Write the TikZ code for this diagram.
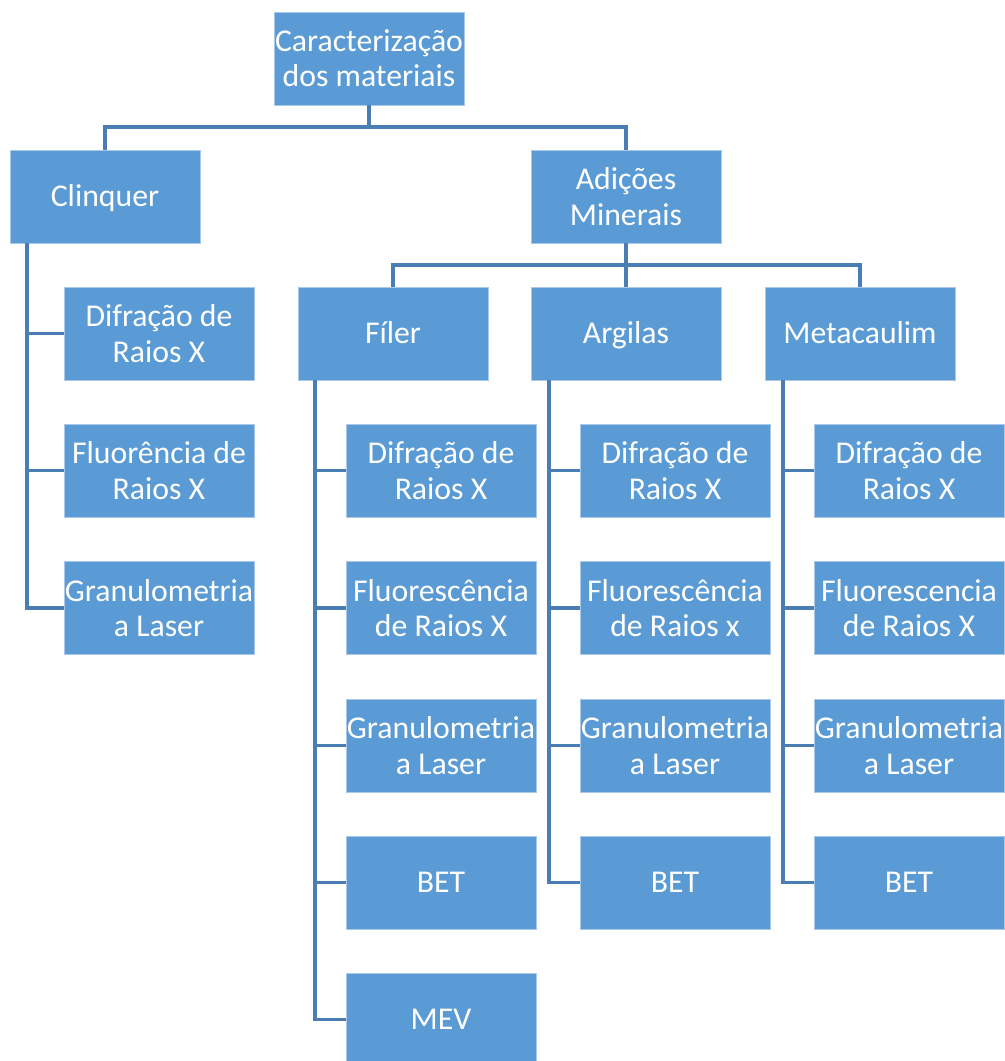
\documentclass[tikz,border=0pt]{standalone}
\usepackage{fontspec}
\setmainfont{Carlito}
\definecolor{boxblue}{HTML}{5B9BD5}
\definecolor{boxedge}{HTML}{A9C8EA}
\definecolor{linkblue}{HTML}{4A7DB3}
\begin{document}
\begin{tikzpicture}[x=0.75pt,y=-0.75pt,
  box/.style={fill=boxblue,draw=boxedge,line width=0.6pt,minimum width=142.5pt,minimum height=69.75pt,
    inner sep=0pt,align=center,text=white,font=\fontsize{23.8}{26.5}\selectfont},
  single/.style={box,text height=16.5pt,text depth=2pt},
  conn/.style={draw=linkblue,line width=2.4pt}]
\useasboundingbox (0,0) rectangle (1005,1061);
\clip (0,0) rectangle (1005,1061);
% level 0,1
\node[box] (top) at (369,58.5) {Caracterização\\dos materiais};
\node[single] (cl) at (105,196.5) {Clinquer};
\node[box] (ad) at (626,196.5) {Adições\\Minerais};
% clinquer children
\node[box] (cl1) at (159,333.5) {Difração de\\Raios X};
\node[box] (cl2) at (159,470.5) {Fluorência de\\Raios X};
\node[box] (cl3) at (159,608) {Granulometria\\a Laser};
% adicoes children
\node[single] (fi) at (393,333.5) {Fíler};
\node[single] (ar) at (626,333.5) {Argilas};
\node[single] (me) at (860,333.5) {Metacaulim};
% filer children
\node[box] (fi1) at (441,470.5) {Difração de\\Raios X};
\node[box] (fi2) at (441,608) {Fluorescência\\de Raios X};
\node[box] (fi3) at (441,745.5) {Granulometria\\a Laser};
\node[single] (fi4) at (441,882.5) {BET};
\node[single] (fi5) at (441,1019.5) {MEV};
% argilas children
\node[box] (ar1) at (675,470.5) {Difração de\\Raios X};
\node[box] (ar2) at (675,608) {Fluorescência\\de Raios x};
\node[box] (ar3) at (675,745.5) {Granulometria\\a Laser};
\node[single] (ar4) at (675,882.5) {BET};
% metacaulim children
\node[box] (me1) at (909,470.5) {Difração de\\Raios X};
\node[box] (me2) at (909,608) {Fluorescencia\\de Raios X};
\node[box] (me3) at (909,745.5) {Granulometria\\a Laser};
\node[single] (me4) at (909,882.5) {BET};
% connectors
\coordinate (b0) at (369,127);
\draw[conn] (top.south) -- (b0);
\draw[conn] (b0) -| (cl.north);
\draw[conn] (b0) -| (ad.north);
\coordinate (b1) at (626,265);
\draw[conn] (ad.south) -- (b1);
\draw[conn] (b1) -| (fi.north);
\draw[conn] (b1) -| (me.north);
\draw[conn] (b1) -- (ar.north);
\coordinate (vc) at (27,243);
\draw[conn] (vc) |- (cl1.west);
\draw[conn] (vc) |- (cl2.west);
\draw[conn] (vc) |- (cl3.west);
\coordinate (vf) at (315,380);
\foreach \n in {fi1,fi2,fi3,fi4,fi5} \draw[conn] (vf) |- (\n.west);
\coordinate (va) at (549,380);
\foreach \n in {ar1,ar2,ar3,ar4} \draw[conn] (va) |- (\n.west);
\coordinate (vm) at (783,380);
\foreach \n in {me1,me2,me3,me4} \draw[conn] (vm) |- (\n.west);
\end{tikzpicture}
\end{document}
